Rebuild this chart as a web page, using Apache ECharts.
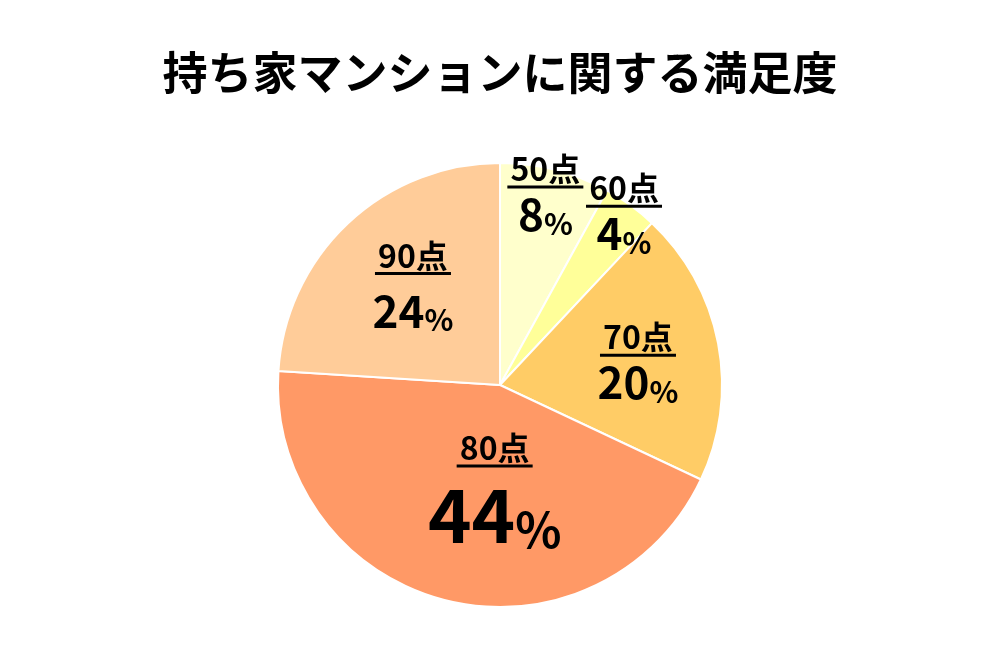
<!DOCTYPE html>
<html>
<head>
<meta charset="utf-8">
<script src="https://cdn.jsdelivr.net/npm/echarts@6/dist/echarts.min.js"></script>
<style>html,body{margin:0;padding:0;background:#fff}#c{width:1000px;height:667px}</style>
</head>
<body>
<div id="c"></div>
<script>
const titleText = '持ち家マンションに関する満足度';
const categories = ['50点', '60点', '70点', '80点', '90点'];
const values = [8, 4, 20, 44, 24];
const colors = ['#FFFFCC', '#FFFF99', '#FFCC66', '#FF9966', '#FFCC99'];

// label layout tweaks (offsets from default inside position)
const labelOffsets = [[17, -79], [57, -78], [26, 0], [23, -3], [-9, -15]];
const gapHeights = [2, 2, 2, 8, 12];
const pctSizes = [44, 44, 44, 74, 44];
const pctSignSizes = [30, 30, 30, 48, 30];

const font = '"Noto Sans CJK JP", "Noto Sans", sans-serif';

const data = categories.map((c, i) => ({
  name: c,
  value: values[i],
  itemStyle: { color: colors[i] },
  label: {
    rich: {
      t: { fontSize: 32, fontWeight: 'bold', fontFamily: font, color: '#000', lineHeight: 33 },
      u: { width: 76, height: 3, backgroundColor: '#000', fontSize: 1, lineHeight: 3 },
      g: { height: gapHeights[i], fontSize: 1, lineHeight: gapHeights[i] },
      p: { fontSize: pctSizes[i], fontWeight: 'bold', fontFamily: font, color: '#000', lineHeight: pctSizes[i] + 4 },
      s: { fontSize: pctSignSizes[i], fontWeight: 'bold', fontFamily: font, color: '#000', lineHeight: pctSizes[i] + 4, verticalAlign: 'bottom' }
    }
  }
}));

const chart = echarts.init(document.getElementById('c'));
chart.setOption({
  animation: false,
  backgroundColor: '#fff',
  title: {
    text: titleText,
    left: 'center',
    top: 45,
    textStyle: { fontSize: 45, fontWeight: 'bold', fontFamily: font, color: '#000' }
  },
  series: [{
    type: 'pie',
    center: [500, 385],
    radius: 222,
    startAngle: 90,
    clockwise: true,
    data: data,
    itemStyle: { borderColor: '#fff', borderWidth: 2 },
    label: {
      show: true,
      position: 'inside',
      align: 'center',
      formatter: p => '{t|' + p.name + '}\n{u| }\n{g| }\n{p|' + p.value + '}{s|%}'
    },
    labelLine: { show: false },
    labelLayout: params => ({ dx: labelOffsets[params.dataIndex][0], dy: labelOffsets[params.dataIndex][1] })
  }]
});
</script>
</body>
</html>
